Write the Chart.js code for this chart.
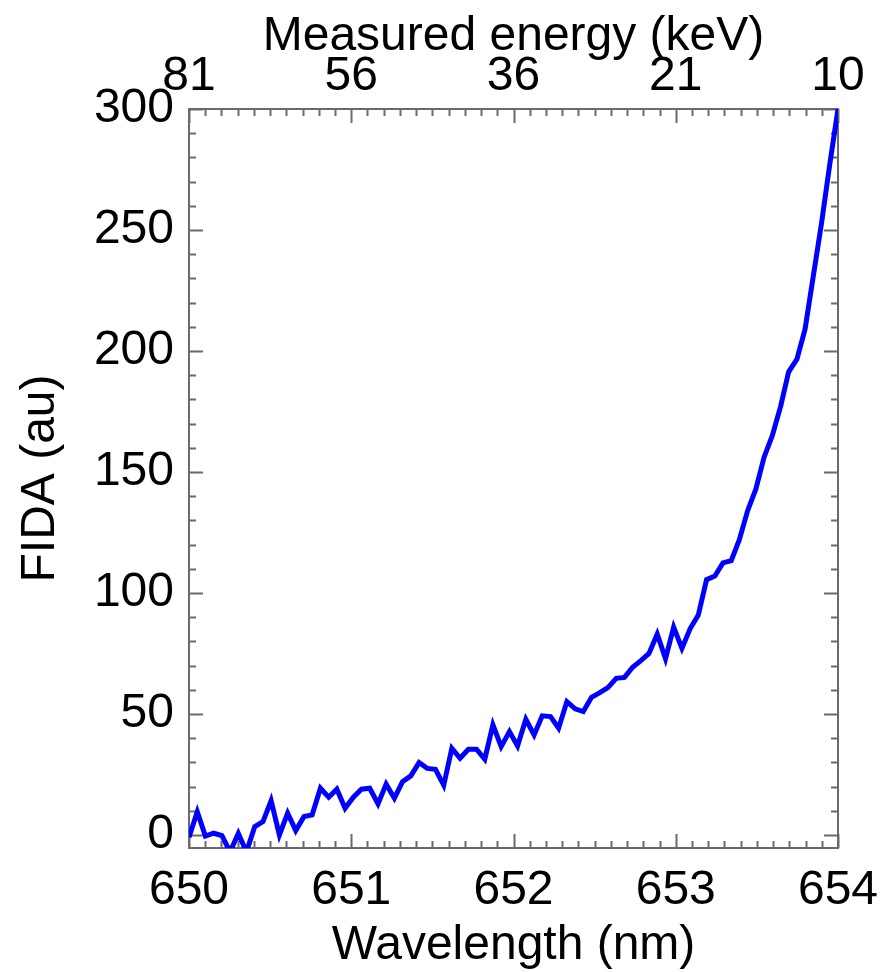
<!DOCTYPE html>
<html>
<head>
<meta charset="utf-8">
<script src="https://cdn.jsdelivr.net/npm/chart.js@4/dist/chart.umd.min.js"></script>
<style>
  html, body { margin: 0; padding: 0; background: #ffffff; }
  #wrap { width: 895px; height: 972px; }
</style>
</head>
<body>
<div id="wrap"><canvas id="c" width="895" height="972"></canvas></div>
<script>
// ---- data ----
const wavelength = [
  650.000, 650.051, 650.101, 650.152, 650.203, 650.253, 650.304, 650.354, 650.405, 650.456,
  650.506, 650.557, 650.608, 650.658, 650.709, 650.759, 650.810, 650.861, 650.911, 650.962,
  651.013, 651.063, 651.114, 651.165, 651.215, 651.266, 651.316, 651.367, 651.418, 651.468,
  651.519, 651.570, 651.620, 651.671, 651.722, 651.772, 651.823, 651.873, 651.924, 651.975,
  652.025, 652.076, 652.127, 652.177, 652.228, 652.278, 652.329, 652.380, 652.430, 652.481,
  652.532, 652.582, 652.633, 652.684, 652.734, 652.785, 652.835, 652.886, 652.937, 652.987,
  653.038, 653.089, 653.139, 653.190, 653.241, 653.291, 653.342, 653.392, 653.443, 653.494,
  653.544, 653.595, 653.646, 653.696, 653.747, 653.797, 653.848, 653.899, 653.949, 654.000
];
const fida = [
  -1, 9.6, -0.5, 0.7, -0.3, -7, 0.6, -7, 3.4, 5.5,
  14.2, 0, 9, 1.8, 7.6, 8.3, 19.3, 15.6, 18.9, 11,
  15.6, 18.9, 19.3, 12.8, 21, 15.2, 22, 24.4, 29.9, 27.5,
  27.1, 20.5, 35.8, 31.7, 35.4, 35.4, 31.3, 45.5, 36.5, 42.7,
  36.8, 47.8, 41.3, 49.2, 48.9, 44.1, 55.1, 52.1, 51, 56.9,
  58.8, 60.9, 64.7, 65.1, 69.3, 72, 75, 83, 72.8, 85.9,
  77.1, 85.3, 90.9, 105.5, 107, 112.4, 113.3, 122, 134, 143,
  156, 165, 177, 191.4, 196.6, 209, 231, 253, 277, 300
];
const xTickValues = [650, 651, 652, 653, 654];
const energyLabels = ['81', '56', '36', '21', '10'];
const yTickValues = [0, 50, 100, 150, 200, 250, 300];

// ---- styling / layout ----
const FONT = { family: "'Liberation Sans', Arial, Helvetica, sans-serif", size: 48 };
const X_MIN = 650, X_MAX = 654, Y_MIN = -5.4, Y_MAX = 300;
const X_MINOR_STEP = 0.1, Y_MINOR_STEP = 10;
const AXIS_COLOR = '#6a6a6a';

const setTicks = vals => scale => { scale.ticks = vals.map(v => ({ value: v })); };

const frameTicks = {
  id: 'frameTicks',
  beforeDatasetsDraw(chart) {
    const { ctx, chartArea: { left, right, top, bottom }, scales } = chart;
    ctx.save();
    ctx.strokeStyle = AXIS_COLOR;
    ctx.lineWidth = 2;
    ctx.strokeRect(left, top, right - left, bottom - top);
    ctx.beginPath();
    const nx = Math.round((X_MAX - X_MIN) / X_MINOR_STEP);
    for (let k = 0; k <= nx; k++) {
      const v = X_MIN + k * X_MINOR_STEP;
      const px = Math.round(scales.x.getPixelForValue(v)) + 0.5;
      const len = (k % 10 === 0) ? 14 : 7;
      ctx.moveTo(px, bottom); ctx.lineTo(px, bottom - len);
      ctx.moveTo(px, top); ctx.lineTo(px, top + len);
    }
    for (let v = 0; v <= Y_MAX + 0.001; v += Y_MINOR_STEP) {
      const py = Math.round(scales.y.getPixelForValue(v)) + 0.5;
      const len = (v % 50 === 0) ? 14 : 7;
      ctx.moveTo(left, py); ctx.lineTo(left + len, py);
      ctx.moveTo(right, py); ctx.lineTo(right - len, py);
    }
    ctx.stroke();
    ctx.restore();
  }
};

new Chart(document.getElementById('c'), {
  type: 'line',
  data: {
    datasets: [{
      data: wavelength.map((w, i) => ({ x: w, y: fida[i] })),
      borderColor: '#0000ff',
      borderWidth: 5,
      pointRadius: 0,
      tension: 0,
      fill: false,
      xAxisID: 'x',
      yAxisID: 'y'
    }]
  },
  options: {
    responsive: false,
    animation: false,
    devicePixelRatio: 1,
    layout: { padding: 0 },
    plugins: { legend: { display: false }, tooltip: { enabled: false } },
    scales: {
      x: {
        type: 'linear', position: 'bottom', min: X_MIN, max: X_MAX,
        afterBuildTicks: setTicks(xTickValues),
        afterFit: s => { s.height = 124; },
        grid: { display: false, drawTicks: false },
        border: { display: false },
        ticks: { font: FONT, color: '#000', padding: 14, maxRotation: 0, autoSkip: false,
                 callback: v => String(v) },
        title: { display: true, text: 'Wavelength (nm)', font: { ...FONT, lineHeight: 1.1 }, color: '#000',
                 padding: { top: 0, bottom: 0 } }
      },
      x2: {
        type: 'linear', position: 'top', min: X_MIN, max: X_MAX,
        afterBuildTicks: setTicks(xTickValues),
        afterFit: s => { s.height = 109; },
        grid: { display: false, drawTicks: false },
        border: { display: false },
        ticks: { font: FONT, color: '#000', padding: 3, maxRotation: 0, autoSkip: false,
                 callback: (v, i) => energyLabels[i] },
        title: { display: true, text: 'Measured energy (keV)', font: FONT, color: '#000',
                 padding: { top: 8, bottom: 0 } }
      },
      y: {
        type: 'linear', position: 'left', min: Y_MIN, max: Y_MAX,
        afterBuildTicks: setTicks(yTickValues),
        afterFit: s => { s.width = 189; },
        grid: { display: false, drawTicks: false },
        border: { display: false },
        ticks: { font: FONT, color: '#000', padding: 15, autoSkip: false,
                 callback: v => String(v) },
        title: { display: true, text: 'FIDA (au)', font: FONT, color: '#000',
                 padding: { top: 12, bottom: 0 } }
      },
      y2: {
        type: 'linear', position: 'right', min: Y_MIN, max: Y_MAX,
        afterFit: s => { s.width = 57; },
        grid: { display: false, drawTicks: false },
        border: { display: false },
        ticks: { display: false }
      }
    }
  },
  plugins: [frameTicks]
});
</script>
</body>
</html>
